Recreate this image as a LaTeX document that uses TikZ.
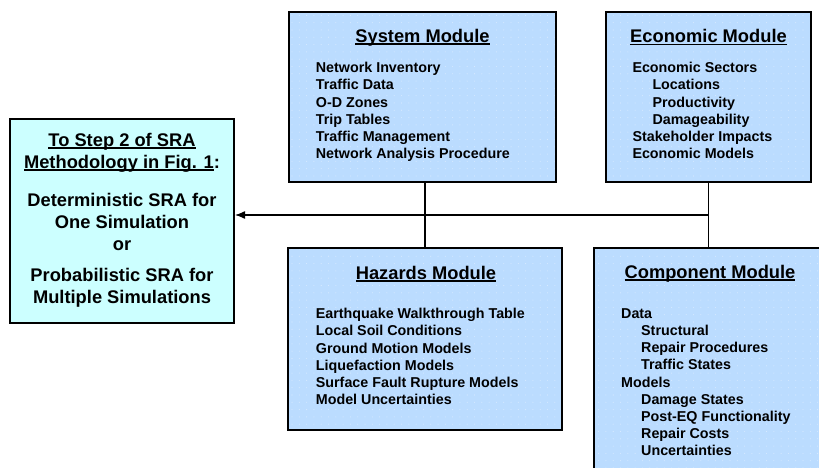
\documentclass[tikz,border=0pt]{standalone}
\usepackage{fontspec}
\setmainfont{Liberation Sans}
\usetikzlibrary{arrows.meta,patterns.meta}

\begin{document}
\definecolor{modblue}{HTML}{BBDCFF}
\definecolor{dotblue}{HTML}{D6EAFF}
\definecolor{stepcyan}{HTML}{CCFFFF}

% underline with a fixed rule below the text
\newcommand\ulrule[1]{\setbox0\hbox{#1}\rlap{\rule[-2.6pt]{\wd0}{1.7pt}}\box0}

\tikzset{
  modbox/.style={draw=black, line width=2pt, inner sep=0pt,
    preaction={fill=modblue},
    pattern={Dots[distance=7.3pt, radius=0.55pt]}, pattern color=dotblue},
  stepbox/.style={draw=black, line width=2pt, fill=stepcyan, inner sep=0pt},
  modtitle/.style={anchor=base, inner sep=0pt,
    font=\bfseries\fontsize{18.3}{22}\selectfont},
  % multi-line nodes: the base anchor sits on the last line
  modbody/.style={anchor=base west, inner sep=0pt, align=left,
    font=\bfseries\fontsize{14.3}{17.2}\selectfont},
  steptext/.style={anchor=base, inner sep=0pt, align=center,
    font=\bfseries\fontsize{18.3}{22}\selectfont},
  link/.style={line width=1.3pt, draw=black}
}

\begin{tikzpicture}[x=1pt, y=-1pt]
\path[use as bounding box] (0,0) rectangle (819,468);
\clip (0,0) rectangle (819,468);

% module boxes
\node[modbox, minimum width=267pt, minimum height=170pt] (sys)  at (422.5,97) {};
\node[modbox, minimum width=205pt, minimum height=170pt] (econ) at (708.5,97) {};
\node[modbox, minimum width=274pt, minimum height=182pt] (haz)  at (425,339) {};
\node[modbox, minimum width=232pt, minimum height=232pt] (comp) at (710,364) {};
\node[stepbox, minimum width=224pt, minimum height=204pt] (dest) at (122,221) {};

% System module
\node[modtitle] (sysT) at (422.5,42.5) {\ulrule{System Module}};
\node[modbody] (sysB) at (315.7,158.7) {Network Inventory\\Traffic Data\\O-D Zones\\Trip Tables\\Traffic Management\\Network Analysis Procedure};

% Economic module
\node[modtitle] (econT) at (708.5,42.8) {\ulrule{Economic Module}};
\node[modbody] (econB) at (632.3,158.7) {Economic Sectors\\\hspace*{20pt}Locations\\\hspace*{20pt}Productivity\\\hspace*{20pt}Damageability\\Stakeholder Impacts\\Economic Models};

% Hazards module
\node[modtitle] (hazT) at (426,279) {\ulrule{Hazards Module}};
\node[modbody] (hazB) at (315.7,404.7) {Earthquake Walkthrough Table\\Local Soil Conditions\\Ground Motion Models\\Liquefaction Models\\Surface Fault Rupture Models\\Model Uncertainties};

% Component module
\node[modtitle] (compT) at (710,278.3) {\ulrule{Component Module}};
\node[modbody] (compB) at (621,455.9) {Data\\\hspace*{20pt}Structural\\\hspace*{20pt}Repair Procedures\\\hspace*{20pt}Traffic States\\Models\\\hspace*{20pt}Damage States\\\hspace*{20pt}Post-EQ Functionality\\\hspace*{20pt}Repair Costs\\\hspace*{20pt}Uncertainties};

% destination box text
\node[steptext] (destT) at (122,303.5) {\ulrule{To Step 2 of SRA}\\\ulrule{Methodology in Fig. 1}:\\[16pt]Deterministic SRA for\\One Simulation\\or\\[9pt]Probabilistic SRA for\\Multiple Simulations};

% connectors
\coordinate (jr) at (econ.south |- 0,215);
\draw[link] (sys.south -| haz.north) -- (haz.north);
\draw[link] (econ.south) -- (econ.south |- comp.north);
\draw[link, -{Latex[length=10pt, width=8pt]}] (jr) -- (jr -| dest.east);
\end{tikzpicture}
\end{document}
